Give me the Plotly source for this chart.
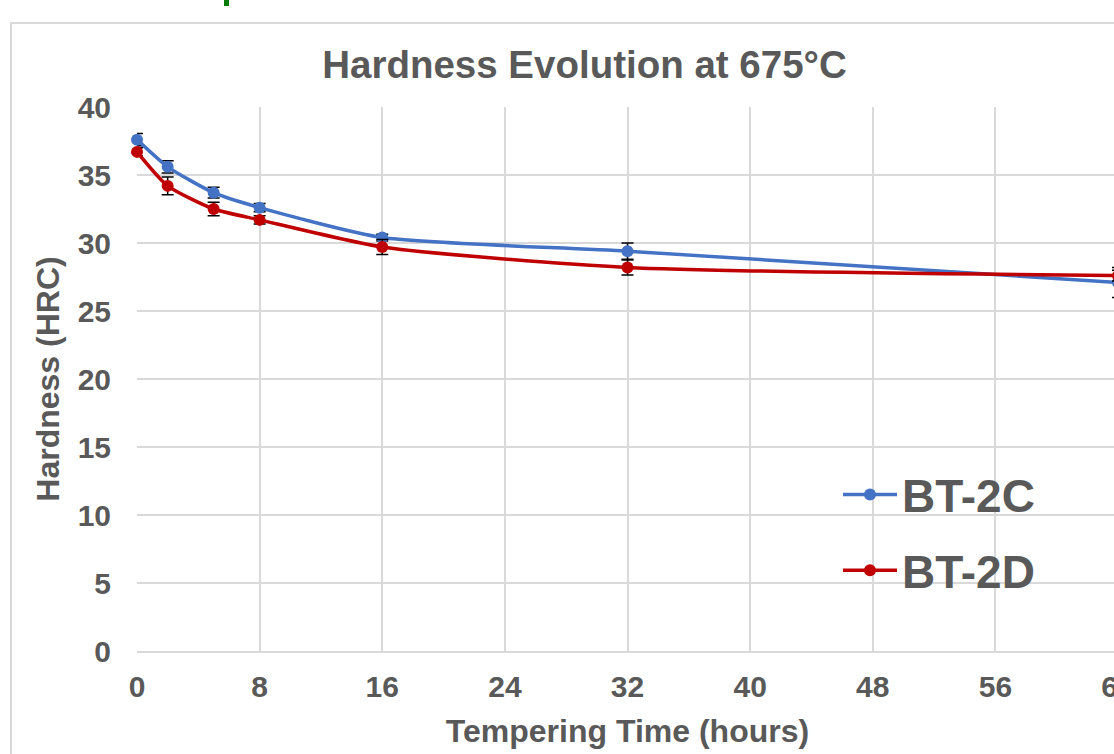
import plotly.graph_objects as go

# ---- data ----
hours = [0, 2, 5, 8, 16, 32, 64]
bt2c = [37.6, 35.6, 33.7, 32.6, 30.4, 29.4, 27.1]
bt2c_err = [0.45, 0.45, 0.4, 0.3, 0.25, 0.6, 1.1]
bt2d = [36.7, 34.2, 32.5, 31.7, 29.7, 28.2, 27.6]
bt2d_err = [0.3, 0.65, 0.5, 0.3, 0.55, 0.55, 0.4]
x_ticks = [0, 8, 16, 24, 32, 40, 48, 56, 64]
y_ticks = [0, 5, 10, 15, 20, 25, 30, 35, 40]

W, H = 1140, 775
L, R, T, B = 137, 22, 107, 124
TXT = "#595959"
FONT = "Liberation Sans, Arial, sans-serif"
GRID = "#d9d9d9"

fig = go.Figure()
for name, ys, err, col, grp in [("BT-2C", bt2c, bt2c_err, "#4472C4", "a"),
                                ("BT-2D", bt2d, bt2d_err, "#C00000", "b")]:
    fig.add_trace(go.Scatter(
        x=hours, y=ys, name=name, mode="lines+markers", legendgroup=grp,
        line=dict(color=col, width=3.5, shape="spline", smoothing=0.6),
        marker=dict(color=col, size=12),
        error_y=dict(type="data", array=err, color="black", thickness=1.5, width=6),
        cliponaxis=False,
    ))

pw = W - L - R
ph = H - T - B
def px(x):
    return (x - L) / pw
def py(y):
    return (H - B - y) / ph

fig.update_layout(
    width=W, height=H,
    margin=dict(l=L, r=R, t=T, b=B, autoexpand=False),
    paper_bgcolor="white", plot_bgcolor="white",
    title=dict(text="Hardness Evolution at 675°C", x=584.5 / W, xref="container", xanchor="center",
               y=1 - 65 / H, yref="container", yanchor="middle",
               font=dict(family=FONT, size=38.5, color=TXT, weight="bold")),
    xaxis=dict(range=[0, 64], tickvals=x_ticks, showgrid=True, gridcolor=GRID, gridwidth=2,
               showline=True, linecolor=GRID, linewidth=2, zeroline=False,
               ticks="", ticklabelstandoff=8,
               tickfont=dict(family=FONT, size=30, color=TXT, weight="bold"),
               title=dict(text="Tempering Time (hours)", standoff=18,
                          font=dict(family=FONT, size=32, color=TXT, weight="bold"))),
    yaxis=dict(range=[0, 40], tickvals=y_ticks, showgrid=True, gridcolor=GRID, gridwidth=2,
               zeroline=False, ticks="", ticklabelstandoff=25,
               tickfont=dict(family=FONT, size=30, color=TXT, weight="bold"),
               title=dict(text="Hardness (HRC)", standoff=8,
                          font=dict(family=FONT, size=32, color=TXT, weight="bold"))),
    legend=dict(x=px(838), y=py(458), xanchor="left", yanchor="top",
                bgcolor="rgba(0,0,0,0)", borderwidth=0, tracegroupgap=13,
                font=dict(family=FONT, size=46, color=TXT, weight="bold"),
                itemwidth=54),
    showlegend=True,
    shapes=[
        dict(type="rect", xref="paper", yref="paper", x0=px(795), x1=px(1091),
             y0=py(612), y1=py(456), line=dict(width=0), fillcolor="white", layer="between"),
        dict(type="rect", xref="paper", yref="paper", x0=px(11), x1=px(W + 20),
             y0=py(H + 20), y1=py(23), line=dict(color=GRID, width=2), layer="below"),
        dict(type="rect", xref="paper", yref="paper", x0=px(224), x1=px(229),
             y0=py(6), y1=py(-2), line=dict(width=0), fillcolor="#0a7a0a"),
    ],
)

fig.write_html("out.html",
               post_script="document.documentElement.style.overflow='hidden';document.body.style.overflow='hidden';document.body.style.margin='0';")
